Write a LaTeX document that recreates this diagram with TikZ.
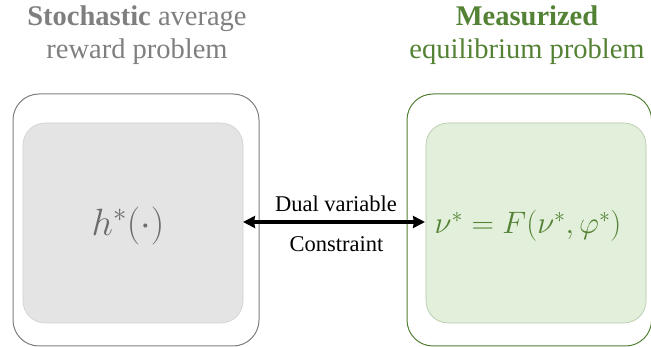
\RequirePackage{fix-cm}
\documentclass[tikz,border=0pt]{standalone}
\usepackage{fontspec}
\setmainfont{Liberation Serif}
\newfontfamily\tms{Liberation Serif}
\usetikzlibrary{arrows.meta}
\definecolor{grtxt}{HTML}{7F7F7F}
\definecolor{gnd}{HTML}{548235}
\definecolor{grfill}{HTML}{E4E4E4}
\definecolor{gnfill}{HTML}{E2EFDA}
\begin{document}
\begin{tikzpicture}[x=1pt,y=-1pt,
  outerbox/.style={draw, line width=1pt, rounded corners=26pt, fill=white},
  innerbox/.style={line width=0.6pt, rounded corners=22pt},
  title/.style={align=center, font=\tms\fontsize{28.5}{33}\selectfont, inner sep=0pt},
  lbl/.style={font=\tms\fontsize{22.5}{24}\selectfont, inner sep=0pt, anchor=base}]
\useasboundingbox (0,0) rectangle (651,347);
% left
\draw[outerbox, draw=grtxt] (13,94) rectangle (259,346);
\draw[innerbox, draw=black!18, fill=grfill] (23,123) rectangle (243,323);
% right
\draw[outerbox, draw=gnd] (407,94) rectangle (651.6,346);
\draw[innerbox, draw=gnd!45, fill=gnfill] (426,123) rectangle (646,323);
% titles
\node[title, text=grtxt] (tl) at (137,35) {\textbf{Stochastic} average\\reward problem};
\node[title, text=gnd] (tr) at (527,35) {\textbf{Measurized}\\equilibrium problem};
% contents
\node[text=grtxt!85!black, font=\fontsize{38}{42}\selectfont] (hl) at (128,226) {$h^*(\cdot)$};
\node[text=gnd, font=\fontsize{31}{36}\selectfont] (eq) at (528,226) {$\nu^* = F(\nu^*,\varphi^*)$};
% arrow
\coordinate (al) at (243,222);
\coordinate (ar) at (425,222);
\draw[line width=3.8pt, {Stealth[length=12pt,width=12pt,inset=1pt]}-{Stealth[length=12pt,width=12pt,inset=1pt]}] (al) -- (ar);
\node[lbl] (dv) at (336,212) {Dual variable};
\node[lbl] (cs) at (336.5,252) {Constraint};
\end{tikzpicture}
\end{document}
